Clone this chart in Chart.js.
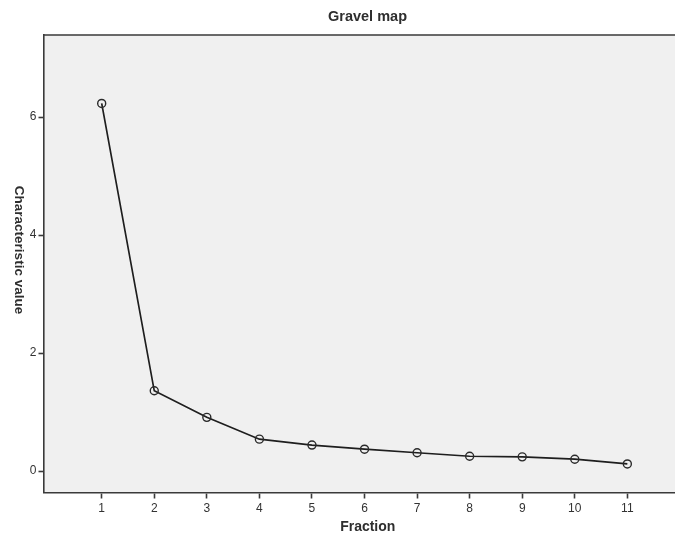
<!DOCTYPE html>
<html>
<head>
<meta charset="utf-8">
<script src="https://cdn.jsdelivr.net/npm/chart.js@4"></script>
<style>
    html, body { margin: 0; padding: 0; background: #fff; overflow: hidden; }
    #wrap { width: 700px; height: 535px; }
</style>
</head>
<body>
<div id="wrap"><canvas id="scree"></canvas></div>
<script>
// ---- Data ----
const fractions = [1, 2, 3, 4, 5, 6, 7, 8, 9, 10, 11];
const eigenValues = [6.23, 1.36, 0.91, 0.54, 0.44, 0.37, 0.31, 0.25, 0.24, 0.20, 0.12];
const xTicks = [1, 2, 3, 4, 5, 6, 7, 8, 9, 10, 11];
const yTicks = [0, 2, 4, 6];

const chartTitle = 'Gravel map';
const xTitle = 'Fraction';
const yTitle = 'Characteristic value';

// ---- Frame, background and titles ----
const framePlugin = {
    id: 'frame',
    beforeDraw(chart) {
        const { ctx, chartArea: a } = chart;
        ctx.save();
        ctx.fillStyle = '#f0f0f0';
        ctx.fillRect(a.left, a.top, a.right - a.left, a.bottom - a.top);
        ctx.restore();
    },
    afterDraw(chart) {
        const { ctx, chartArea: a } = chart;
        ctx.save();
        ctx.strokeStyle = '#3a3a3a';
        ctx.lineWidth = 1.6;
        ctx.beginPath();
        ctx.moveTo(a.left, a.top);
        ctx.lineTo(a.right, a.top);
        ctx.lineTo(a.right, a.bottom);
        ctx.stroke();

        ctx.fillStyle = '#2e2e2e';
        ctx.textAlign = 'center';
        ctx.textBaseline = 'middle';
        ctx.font = 'bold 14.5px "Liberation Sans", Arial, sans-serif';
        ctx.fillText(chartTitle, 367.5, 17);

        ctx.font = 'bold 14px "Liberation Sans", Arial, sans-serif';
        ctx.fillText(xTitle, (a.left + a.right) / 2, 527);

        ctx.font = 'bold 13.5px "Liberation Sans", Arial, sans-serif';
        ctx.translate(19, 250);
        ctx.rotate(Math.PI / 2);
        ctx.fillText(yTitle, 0, 0);
        ctx.restore();
    }
};

const ctx = document.getElementById('scree').getContext('2d');
new Chart(ctx, {
    type: 'line',
    data: {
        datasets: [{
            data: fractions.map((f, i) => ({ x: f, y: eigenValues[i] })),
            borderColor: '#1e1e1e',
            borderWidth: 1.7,
            pointRadius: 4,
            pointBorderWidth: 1.4,
            pointBorderColor: '#2a2a2a',
            pointBackgroundColor: 'rgba(0,0,0,0)',
            tension: 0
        }]
    },
    options: {
        responsive: true,
        maintainAspectRatio: false,
        animation: false,
        layout: { padding: { top: 35, right: 8, bottom: 0, left: 0 } },
        plugins: {
            legend: { display: false },
            tooltip: { enabled: false }
        },
        scales: {
            x: {
                type: 'linear',
                min: -0.107,
                max: 12.23,
                afterBuildTicks: s => { s.ticks = xTicks.map(v => ({ value: v })); },
                afterFit: s => { s.height = 42.5; },
                grid: { drawOnChartArea: false, tickLength: 6, tickColor: '#3a3a3a', tickWidth: 1.6 },
                border: { color: '#3a3a3a', width: 1.6 },
                ticks: {
                    color: '#333',
                    padding: 3,
                    maxRotation: 0,
                    font: { family: '"Liberation Sans", Arial, sans-serif', size: 12 }
                }
            },
            y: {
                min: -0.364,
                max: 7.39,
                afterBuildTicks: s => { s.ticks = yTicks.map(v => ({ value: v })); },
                afterFit: s => { s.width = 43.5; },
                grid: { drawOnChartArea: false, tickLength: 5, tickColor: '#3a3a3a', tickWidth: 1.6 },
                border: { color: '#3a3a3a', width: 1.6 },
                ticks: {
                    color: '#333',
                    padding: 2,
                    font: { family: '"Liberation Sans", Arial, sans-serif', size: 12 }
                }
            }
        }
    },
    plugins: [framePlugin]
});
</script>
</body>
</html>
